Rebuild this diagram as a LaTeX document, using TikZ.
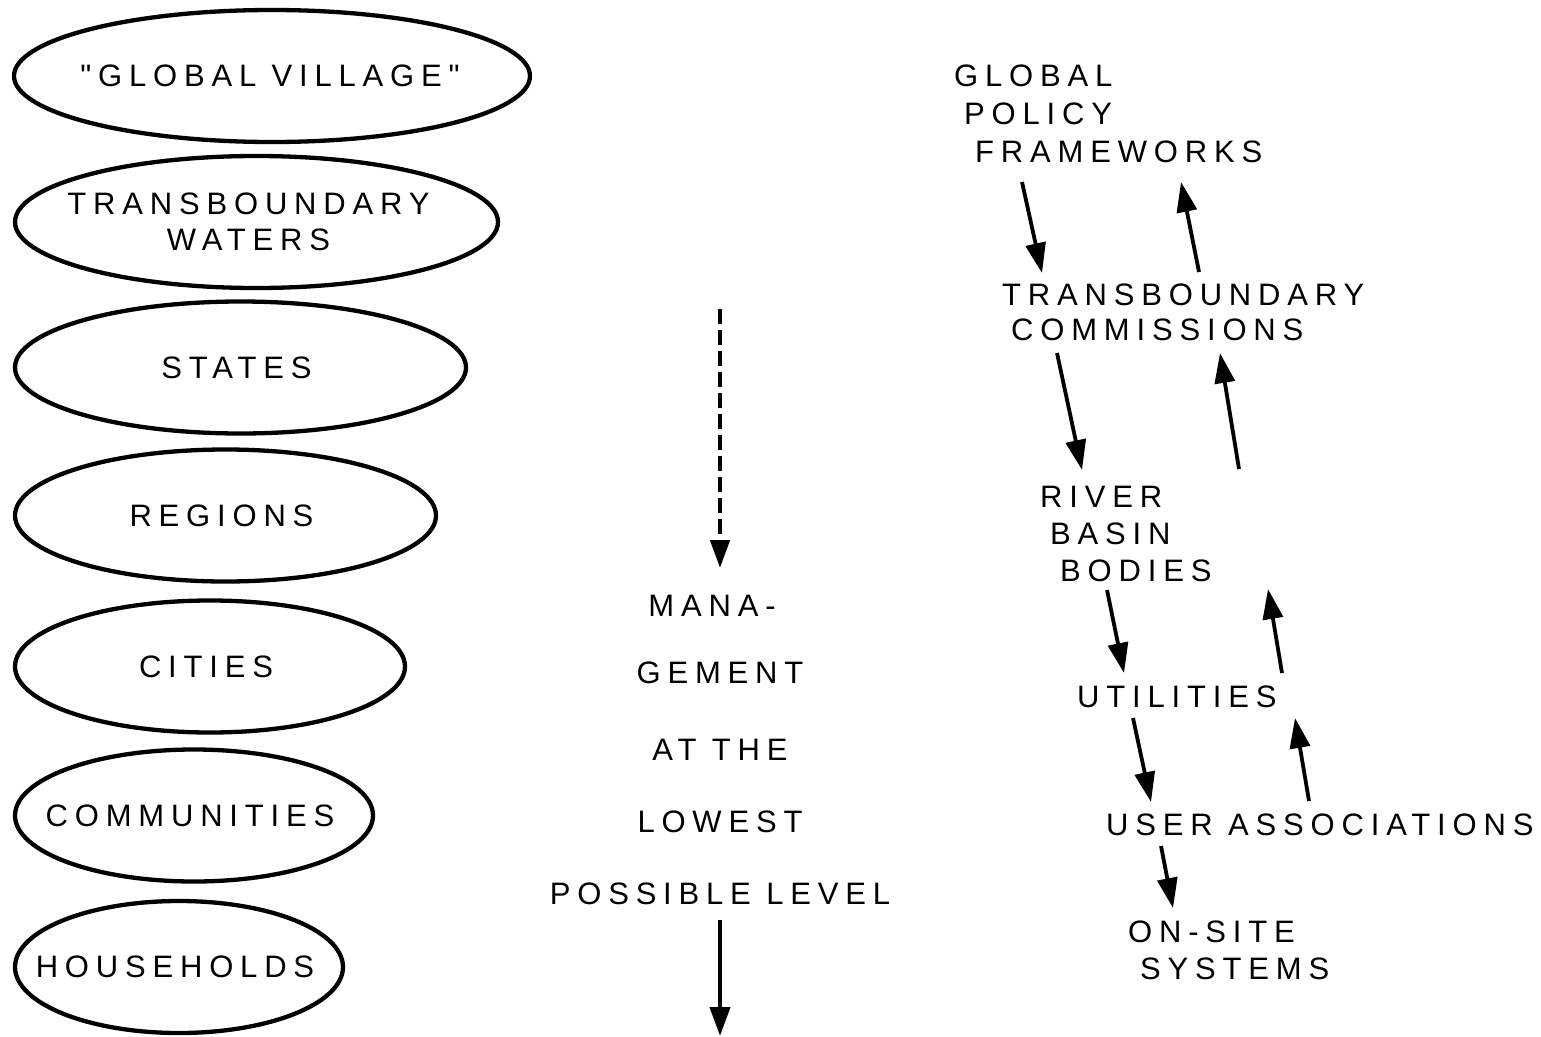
\documentclass[tikz,border=0pt]{standalone}
\usepackage{fontspec}
\newfontfamily\lblfont{Liberation Sans}[LetterSpace=22]
\usetikzlibrary{shapes.geometric,arrows.meta}
\begin{document}
\begin{tikzpicture}[x=1pt,y=-1pt,
  lbl/.style={font=\lblfont\fontsize{31}{37}\selectfont, inner sep=0pt},
  inoval/.style={lbl, xshift=-4pt},
  oval/.style={draw, line width=4.3pt, ellipse, inner sep=0pt, minimum height=132pt},
  arr/.style={line width=3.8pt, line cap=butt, -{Triangle[length=30pt,width=20pt]}},
  dasharr/.style={line width=4.5pt, dash pattern=on 15pt off 6pt,
                  -{Triangle[length=28pt,width=19pt]}},
  solidarr/.style={line width=4.2pt, -{Triangle[length=29pt,width=20pt]}}]
\useasboundingbox (0,0) rectangle (1541,1036);

% ---- nested scales (left column) ----
\node[oval, minimum width=516pt] (e1) at (272,76) {};
\node[lbl, xshift=-2pt] (t1) at (e1) {"GLOBAL VILLAGE"};
\node[oval, minimum width=483pt] (e2) at (256.5,222) {};
\node[lbl, align=center, font=\lblfont\fontsize{31}{36}\selectfont, xshift=-8pt] (t2) at (e2) {TRANSBOUNDARY\\WATERS};
\node[oval, minimum width=451pt] (e3) at (240.5,367.5) {};
\node[inoval] (t3) at (e3) {STATES};
\node[oval, minimum width=421pt] (e4) at (225.5,515.5) {};
\node[inoval] (t4) at (e4) {REGIONS};
\node[oval, minimum width=390pt] (e5) at (210,666.5) {};
\node[inoval] (t5) at (e5) {CITIES};
\node[oval, minimum width=358pt] (e6) at (194,815.5) {};
\node[inoval] (t6) at (e6) {COMMUNITIES};
\node[oval, minimum width=328pt] (e7) at (179,967) {};
\node[inoval] (t7) at (e7) {HOUSEHOLDS};

% ---- subsidiarity principle (middle column) ----
\node[lbl, align=center, font=\lblfont\fontsize{31}{72}\selectfont] (mgmt) at (720,749.5)
  {MANA-\hspace*{16pt}\\[-5pt]GEMENT\\[5pt]AT THE\\LOWEST\\POSSIBLE LEVEL};
\coordinate (dtop) at (720,309);
\coordinate (dtip) at (720,568);
\coordinate (btop) at (720,920);
\coordinate (btip) at (720,1036);
\draw[dasharr] (dtop) -- (dtip);
\draw[solidarr] (btop) -- (btip);

% ---- institutional levels (right column) ----
\node[lbl, anchor=north west, align=left, font=\lblfont\fontsize{31}{38}\selectfont] (gpf) at (954,65)
  {GLOBAL\\\hspace*{10pt}POLICY\\\hspace*{21pt}FRAMEWORKS};
\node[lbl, anchor=north west, align=left, font=\lblfont\fontsize{31}{35}\selectfont] (tbc) at (1002,284)
  {TRANSBOUNDARY\\\hspace*{9pt}COMMISSIONS};
\node[lbl, anchor=north west, align=left, font=\lblfont\fontsize{31}{37}\selectfont] (rbb) at (1040,486)
  {RIVER\\\hspace*{10pt}BASIN\\\hspace*{20pt}BODIES};
\node[lbl, anchor=north west] (util) at (1077,686) {UTILITIES};
\node[lbl, anchor=north west] (ua) at (1106,814) {USER ASSOCIATIONS};
\node[lbl, anchor=north west, align=left, font=\lblfont\fontsize{31}{37}\selectfont] (ons) at (1128,921)
  {ON-SITE\\\hspace*{12pt}SYSTEMS};

% downward and upward flows between levels
\coordinate (d1s) at (1022,182);  \coordinate (d1e) at (1042,273);
\coordinate (u1s) at (1199,272);  \coordinate (u1e) at (1181,182);
\coordinate (d2s) at (1057,353);  \coordinate (d2e) at (1082,470);
\coordinate (u2s) at (1239,469);  \coordinate (u2e) at (1220,353);
\coordinate (d3s) at (1107,590);  \coordinate (d3e) at (1124,673);
\coordinate (u3s) at (1282,673);  \coordinate (u3e) at (1268,589);
\coordinate (d4s) at (1133,718);  \coordinate (d4e) at (1151,802);
\coordinate (u4s) at (1309,801);  \coordinate (u4e) at (1295,718);
\coordinate (d5s) at (1161,846);  \coordinate (d5e) at (1173,908);
\foreach \a in {d1,u1,d2,u2,d3,u3,d4,u4,d5}
  \draw[arr] (\a s) -- (\a e);
\end{tikzpicture}
\end{document}
